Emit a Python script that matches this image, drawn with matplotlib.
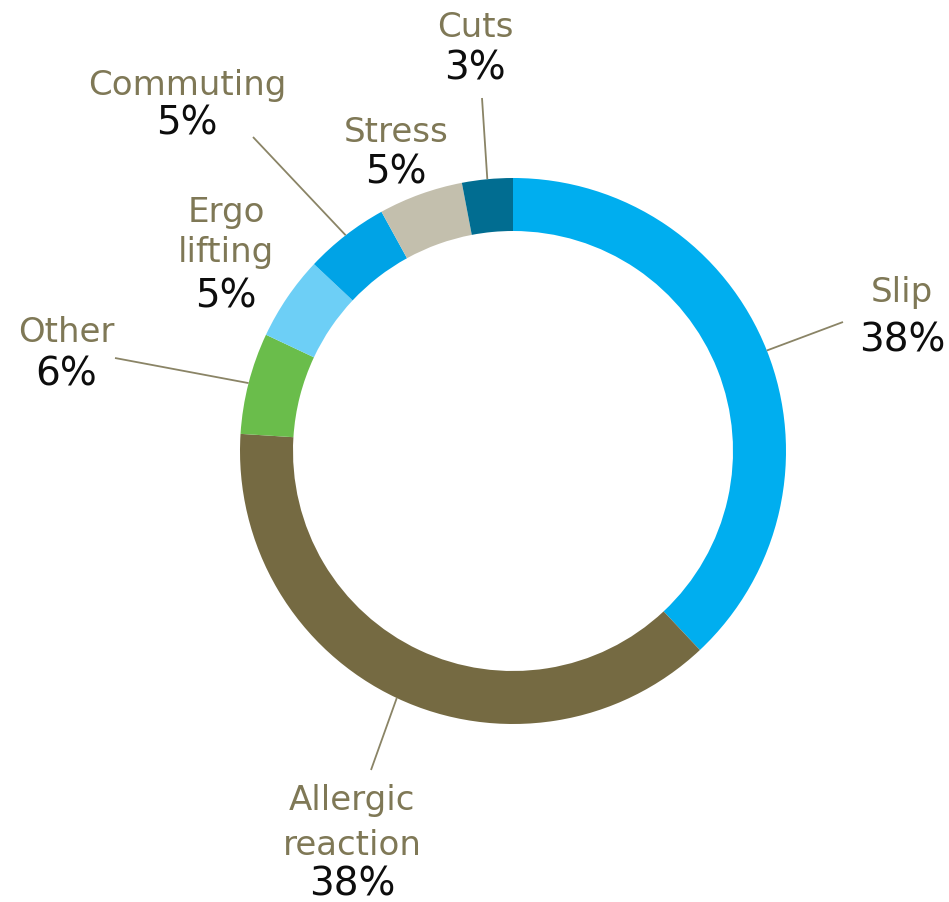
"""
Donut chart of incident causes with leader-line labels.
"""

import numpy as np
import matplotlib.pyplot as plt

# Incident causes, clockwise from 12 o'clock
causes = ["Slip", "Allergic\nreaction", "Other", "Ergo\nlifting", "Commuting", "Stress", "Cuts"]
shares = [38, 38, 6, 5, 5, 5, 3]
colors = ["#00aeef", "#756a42", "#6abd4b", "#6dcff6", "#00a3e6", "#c3bfad", "#016d91"]

# label layout in pixel space: centre x, baseline of each line (name lines then percent)
label_x = [902, 352, 66, 226, 187, 396, 475]
label_baselines = [
    [302, 352],
    [810, 855, 895],
    [342, 385],
    [222, 262, 307],
    [95, 135],
    [142, 183],
    [37, 80],
]
# leader line start (label side) in pixels, None where no line is drawn
leader_start = [(843, 322), (371, 770), (115, 358), None, (253, 137), None, (482, 98)]

W, H = 949, 902
CX, CY, R = 513, 451, 273
RING = 53 / R

NAME_COLOR = "#7f7856"
PCT_COLOR = "#0d0d0d"
LINE_COLOR = "#8a8466"
FONT = ["DejaVu Sans"]


def px(x, y):
    """Pixel position -> data coordinates (pie centred at origin, radius 1)."""
    return (x - CX) / R, (CY - y) / R


fig = plt.figure(figsize=(W / 100, H / 100), dpi=100)
ax = fig.add_axes([0, 0, 1, 1])

wedges, _ = ax.pie(
    shares,
    colors=colors,
    startangle=90,
    counterclock=False,
    radius=1,
    wedgeprops=dict(width=RING, edgecolor="none", linewidth=0),
)

ax.set_xlim(-CX / R, (W - CX) / R)
ax.set_ylim(-(H - CY) / R, CY / R)
ax.set_aspect("equal")
ax.axis("off")

for w, name, share, x, bases, start in zip(
    wedges, causes, shares, label_x, label_baselines, leader_start
):
    lines = name.split("\n")
    for line, b in zip(lines, bases[:-1]):
        tx, ty = px(x, b)
        ax.text(tx, ty, line, ha="center", va="baseline", fontsize=24.5,
                color=NAME_COLOR, family=FONT, fontweight="normal")
    tx, ty = px(x, bases[-1])
    ax.text(tx, ty, f"{share}%", ha="center", va="baseline", fontsize=28,
            color=PCT_COLOR, family=FONT, fontweight="normal")

    if start is not None:
        mid = np.deg2rad((w.theta1 + w.theta2) / 2)
        ex, ey = np.cos(mid), np.sin(mid)
        sx, sy = px(*start)
        ax.plot([sx, ex], [sy, ey], color=LINE_COLOR, lw=1.3, solid_capstyle="butt")

fig.savefig("out.png", dpi=100, facecolor="white")
